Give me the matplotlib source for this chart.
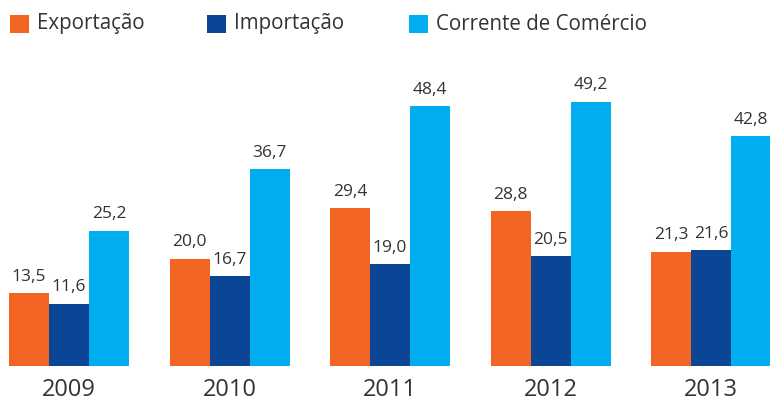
import numpy as np
import matplotlib.pyplot as plt
from matplotlib.patches import Rectangle

anos = ['2009', '2010', '2011', '2012', '2013']
exportacao = [13.5, 20.0, 29.4, 28.8, 21.3]
importacao = [11.6, 16.7, 19.0, 20.5, 21.6]
corrente = [25.2, 36.7, 48.4, 49.2, 42.8]
series = ['Exportação', 'Importação', 'Corrente de Comércio']
cores = ['#F26522', '#0B4595', '#00AEEF']

plt.rcParams['font.family'] = ['Open Sans', 'DejaVu Sans']
W, H = 770, 401
fig = plt.figure(figsize=(W / 100, H / 100), dpi=100)
ax = fig.add_axes([0, 35 / H, 1, 366 / H])

x = np.arange(len(anos))
w = 40 / 160.5
for i, vals in enumerate([exportacao, importacao, corrente]):
    pos = x + (i - 1) * w
    ax.bar(pos, vals, width=w, color=cores[i], linewidth=0)
    for px, v in zip(pos, vals):
        ax.annotate(f'{v:.1f}'.replace('.', ','), (px, v), xytext=(0, 6),
                    textcoords='offset points', ha='center', va='bottom',
                    fontsize=12.5, color='#333333')

ax.set_xlim(-69 / 160.5, (W - 69) / 160.5)
ax.set_ylim(0, 366 / 5.372)
ax.axis('off')

for px, a in zip(x, anos):
    ax.annotate(a, (px, 0), xytext=(0, -9), textcoords='offset points',
                ha='center', va='top', fontsize=17, color='#333333')

# legenda
leg_x = [10, 207, 409]
for lx, nome, c in zip(leg_x, series, cores):
    fig.add_artist(Rectangle((lx / W, 1 - 33 / H), 19 / W, 18 / H,
                             transform=fig.transFigure, color=c, lw=0))
    fig.text((lx + 27) / W, 1 - 24 / H, nome, ha='left', va='center',
             fontsize=14.8, color='#333333')

fig.savefig('out.png', dpi=100)
